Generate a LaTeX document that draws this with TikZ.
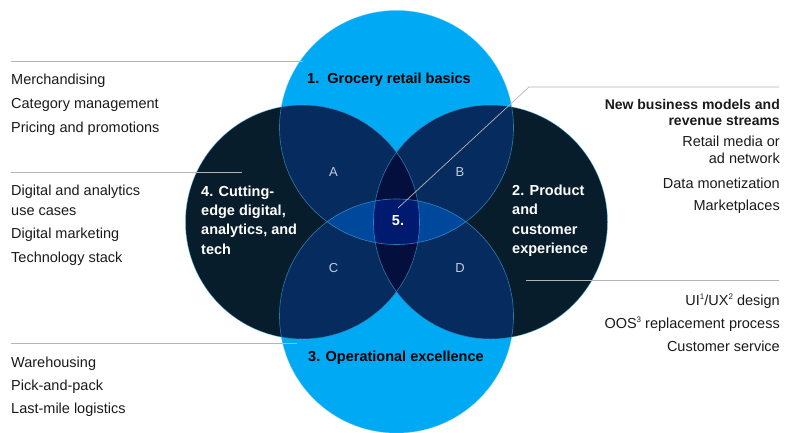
\documentclass[tikz,border=0pt]{standalone}
\usepackage{fontspec}
\setmainfont{Liberation Sans}
\usetikzlibrary{positioning}

\definecolor{skyblue}{HTML}{00A9F4}
\definecolor{navy}{HTML}{071D2C}
\definecolor{deepblue}{HTML}{052B5F}
\definecolor{inkblue}{HTML}{040F3D}
\definecolor{midblue}{HTML}{00489B}
\definecolor{coreblue}{HTML}{001A70}
\definecolor{rimblue}{HTML}{4FC3F7}
\definecolor{leadgray}{HTML}{B4B4B4}
\definecolor{ink}{HTML}{1A1A1A}
\definecolor{zonegray}{HTML}{C3CCD8}

% small footnote marks
\newcommand\noteref[1]{\raisebox{0.42em}{\fontsize{8}{8}\selectfont#1}}

\begin{document}
\begin{tikzpicture}[x=1pt,y=-1pt]
\tikzset{
ring/.style = {radius=117pt},
rim/.style = {draw=rimblue, line width=0.6pt, opacity=0.55},
leader/.style = {draw=leadgray, line width=0.7pt},
list/.style = {inner sep=0pt, align=left, text=ink, font=\fontsize{14.5}{20}\selectfont},
rlist/.style = {list, align=right},
title/.style = {inner sep=0pt, align=left, font=\bfseries\fontsize{14.5}{19.3}\selectfont},
zone/.style = {inner sep=0pt, text=zonegray, font=\fontsize{13}{13}\selectfont}
}
\useasboundingbox (0,0) rectangle (789,433);

% circle centres
\coordinate (ctop) at (396.5,127.5);
\coordinate (cbot) at (396.5,316);
\coordinate (cleft) at (302.5,222);
\coordinate (cright) at (490.5,222);

% base discs
\fill[skyblue] (ctop) circle[ring] (cbot) circle[ring];
\fill[navy] (cleft) circle[ring] (cright) circle[ring];

% overlaps with the top and bottom discs
\begin{scope}
\clip (ctop) circle[ring];
\fill[deepblue] (cleft) circle[ring] (cright) circle[ring];
\end{scope}
\begin{scope}
\clip (cbot) circle[ring];
\fill[deepblue] (cleft) circle[ring] (cright) circle[ring];
\end{scope}

% left and right lens
\begin{scope}
\clip (cleft) circle[ring];
\fill[inkblue] (cright) circle[ring];
\end{scope}

% top and bottom lens
\begin{scope}
\clip (ctop) circle[ring];
\clip (cbot) circle[ring];
\fill[midblue] (cleft) circle[ring] (cright) circle[ring];
\clip (cleft) circle[ring];
\fill[coreblue] (cright) circle[ring];
\end{scope}

\draw[rim] (ctop) circle[ring] (cbot) circle[ring] (cleft) circle[ring] (cright) circle[ring];

% circle labels (base = last line)
\node[title, anchor=base west] (basics) at (307,84) {1.\ \ Grocery retail basics};
\node[title, anchor=base west] (ops) at (308,361.5) {3. Operational excellence};
\node[title, anchor=base west, text=white] (digital) at (201,254) {4. Cutting-\\edge digital,\\analytics, and\\tech};
\node[title, anchor=base west, text=white] (product) at (512,253.3) {2. Product\\and\\customer\\experience};
\node[title, anchor=base, text=white] (core) at (398,225) {5.};

\node[zone, anchor=base] (zoneA) at (333.5,176.5) {A};
\node[zone, anchor=base] (zoneB) at (460,176.5) {B};
\node[zone, anchor=base] (zoneC) at (333.5,272.5) {C};
\node[zone, anchor=base] (zoneD) at (460,272.5) {D};

% lists
\node[list, anchor=base west] (basicslist) at (11,132) {Merchandising\\[4pt]Category management\\[4pt]Pricing and promotions};
\node[list, anchor=base west] (digitallist) at (11,262.3) {Digital and analytics\\use cases\\[2.6pt]Digital marketing\\[4pt]Technology stack};
\node[list, anchor=base west] (opslist) at (11,413.3) {Warehousing\\[3.2pt]Pick-and-pack\\[2.8pt]Last-mile logistics};
\node[title, align=right, anchor=base east, text=ink, font=\bfseries\fontsize{14}{16}\selectfont] (modelshead) at (780,125) {New business models and\\revenue streams};
\node[rlist, anchor=base east] (modelslist) at (780,210.5) {Retail media or\\[-3pt]ad network\\[5pt]Data monetization\\[2.5pt]Marketplaces};
\node[rlist, anchor=base east] (productlist) at (780,351.7) {UI\noteref{1}/UX\noteref{2} design\\[3.3pt]OOS\noteref{3} replacement process\\[3.3pt]Customer service};

% leader lines
\coordinate (basicsL) at (11,61);
\coordinate (basicsR) at (303,61);
\coordinate (digitalL) at (11,172.5);
\coordinate (digitalR) at (242,172.5);
\coordinate (opsL) at (11,343);
\coordinate (opsR) at (297,343);
\coordinate (modelsR) at (779,87);
\coordinate (modelsK) at (529,87);
\coordinate (coreTip) at (398,208);
\coordinate (productL) at (526,280.5);
\coordinate (productR) at (779,280.5);

\draw[leader] (basicsL) -- (basicsR);
\draw[leader] (digitalL) -- (digitalR);
\draw[leader] (opsL) -- (opsR);
\draw[leader] (modelsR) -- (modelsK) -- (coreTip);
\draw[leader] (productL) -- (productR);
\end{tikzpicture}
\end{document}
